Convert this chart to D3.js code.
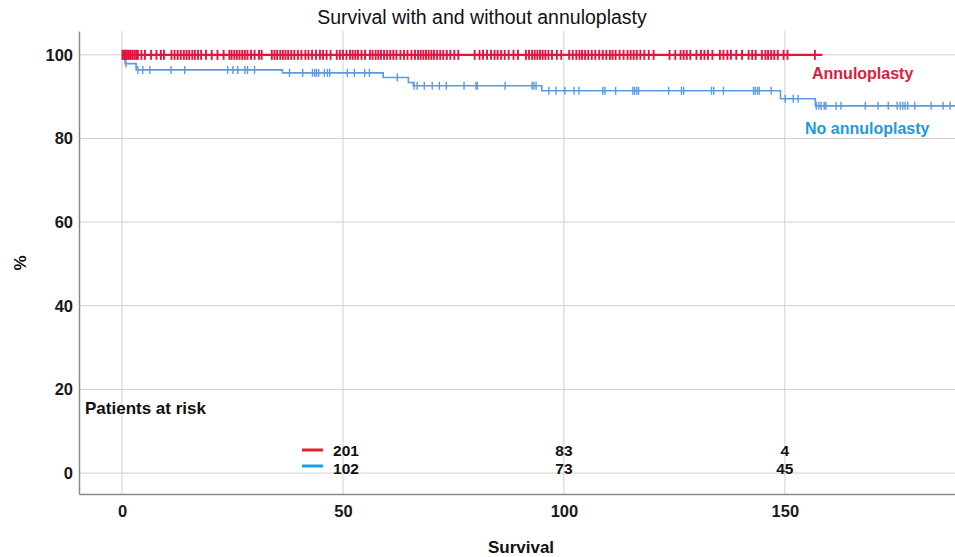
<!DOCTYPE html>
<html>
<head>
<meta charset="utf-8">
<script src="https://cdn.jsdelivr.net/npm/d3@7"></script>
<style>
  html, body { margin: 0; padding: 0; background: #fff; }
  svg { display: block; font-family: "Liberation Sans", Arial, sans-serif; }
</style>
</head>
<body>
<svg id="chart" width="955" height="557"></svg>
<script>
// ---------- DATA ----------
const title = "Survival with and without annuloplasty";
const xTicks = [0, 50, 100, 150];
const yTicks = [0, 20, 40, 60, 80, 100];

// Annuloplasty: no events, survival stays at 100%
const annuloStepTimes = [0];
const annuloStepSurv  = [100];
const annuloEnd = 158.5;
const annuloCensor = [0.1,0.3,0.5,0.7,0.9,1.1,1.4,1.7,2.0,2.4,2.8,3.2,3.6,4.4,5.2,6.6,7.8,8.8,9.5,
  11.2,11.9,12.6,13.3,14.0,14.6,15.2,15.9,16.5,17.2,17.9,19.0,20.3,21.6,23.0,24.3,24.8,25.4,26.0,26.6,
  27.2,27.8,28.4,29.2,30.0,31.0,31.6,33.9,34.5,35.1,35.8,36.4,37.0,37.6,38.3,39.0,39.8,40.6,41.5,42.2,
  43.0,43.9,44.8,45.5,46.3,47.2,48.6,49.3,50.0,50.8,51.6,52.2,52.8,53.4,54.2,55.0,56.1,56.7,57.4,58.0,
  58.6,59.3,60.0,60.7,61.4,62.1,63.0,63.8,64.6,65.5,66.3,67.0,67.6,68.2,68.8,69.4,70.0,70.6,71.3,72.0,
  72.7,73.5,74.3,75.2,76.1,79.8,80.9,81.7,82.6,83.5,84.3,85.0,85.8,86.6,87.5,88.6,89.6,91.4,92.1,92.8,
  93.4,94.0,94.6,95.2,95.8,96.5,97.3,98.4,99.4,101.2,102.0,102.8,103.5,104.1,104.8,105.5,106.3,107.1,
  108.0,108.8,109.6,110.4,111.0,111.7,112.6,113.5,114.4,115.1,115.8,116.5,117.3,118.2,119.2,120.3,
  123.9,125.2,126.4,127.1,127.8,128.6,130.0,131.0,131.8,132.6,133.6,135.3,136.1,137.0,137.8,139.0,
  140.3,141.8,142.6,143.4,144.8,145.6,146.2,146.9,147.6,148.4,149.7,150.6,156.8];

// No annuloplasty: Kaplan-Meier steps
const noAnnuloStepTimes = [0, 0.7, 3.2, 36.3, 59.1, 64.8, 65.9, 95.0, 149.0, 156.9];
const noAnnuloStepSurv  = [100, 97.9, 96.4, 95.7, 94.6, 93.4, 92.6, 91.4, 89.5, 87.8];
const noAnnuloEnd = 192;
const noAnnuloCensor = [0.9,3.6,4.7,6.3,11.1,14.2,23.9,25.1,26.2,27.8,28.4,30.0,37.9,40.9,43.1,43.6,
  44.0,44.5,45.8,46.5,47.0,51.0,52.6,54.9,56.0,62.3,66.1,66.8,68.4,70.2,71.8,73.4,77.4,80.1,80.4,86.7,
  92.8,93.2,93.7,96.6,98.2,100.2,102.3,103.4,108.8,109.3,111.7,115.6,116.0,116.5,116.9,123.7,126.6,
  127.1,133.4,133.9,136.1,142.9,143.3,143.8,144.2,146.9,150.1,151.9,153.0,157.1,157.7,158.2,158.9,
  159.3,161.6,162.7,168.2,171.1,173.4,175.4,176.1,176.7,177.2,177.8,179.4,183.1,185.8,187.4];

// Patients at risk
const riskTimes = [50, 100, 150];
const riskAnnulo = [201, 83, 4];
const riskNoAnnulo = [102, 73, 45];

// ---------- LAYOUT ----------
const svg = d3.select("#chart");
const plot = { left: 79, right: 955, top: 31, bottom: 494 };
const x = d3.scaleLinear().domain([-9.73, 188.5]).range([plot.left, plot.right]);
const y = d3.scaleLinear().domain([-5, 105.7]).range([plot.bottom, plot.top]);

const colRedLine = "#e3153f", colRedText = "#d81e3c";
const colBlueLine = "#5a9be0", colBlueText = "#1f9ad8";

svg.append("defs").append("clipPath").attr("id", "clip")
  .append("rect").attr("x", plot.left).attr("y", plot.top - 10)
  .attr("width", plot.right - plot.left).attr("height", plot.bottom - plot.top + 10);

// grid
const grid = svg.append("g");
grid.selectAll("line.h").data(yTicks).join("line")
  .attr("x1", plot.left).attr("x2", plot.right)
  .attr("y1", d => y(d)).attr("y2", d => y(d))
  .attr("stroke", "#cfcfcf").attr("stroke-width", 1);
grid.selectAll("line.v").data(xTicks).join("line")
  .attr("y1", plot.top).attr("y2", plot.bottom)
  .attr("x1", d => x(d)).attr("x2", d => x(d))
  .attr("stroke", "#cfcfcf").attr("stroke-width", 1);

// axes
const yAxis = svg.append("g").attr("transform", `translate(${plot.left},0)`)
  .call(d3.axisLeft(y).tickValues(yTicks).tickSize(0).tickPadding(6).tickSizeOuter(0));
const xAxis = svg.append("g").attr("transform", `translate(0,${plot.bottom})`)
  .call(d3.axisBottom(x).tickValues(xTicks).tickSize(0).tickPadding(11).tickSizeOuter(0));
[xAxis, yAxis].forEach(a => {
  a.select(".domain").attr("stroke", "#8a8a8a").attr("stroke-width", 1.5);
  a.selectAll("text").attr("font-size", 16.5).attr("font-weight", "bold")
    .attr("fill", "#1a1a1a").attr("font-family", "Liberation Sans, Arial, sans-serif");
});

// curves
const stepLine = d3.line().x(d => x(d[0])).y(d => y(d[1])).curve(d3.curveStepAfter);
function survAt(times, surv, t) {
  let s = surv[0];
  for (let i = 0; i < times.length; i++) if (times[i] <= t) s = surv[i];
  return s;
}
function drawCurve(times, surv, end, censor, color, markH, lw, mw) {
  const g = svg.append("g").attr("clip-path", "url(#clip)");
  const pts = times.map((t, i) => [t, surv[i]]);
  pts.push([end, surv[surv.length - 1]]);
  g.append("path").datum(pts).attr("d", stepLine)
    .attr("fill", "none").attr("stroke", color).attr("stroke-width", lw);
  g.selectAll("line.c").data(censor).join("line")
    .attr("x1", d => x(d)).attr("x2", d => x(d))
    .attr("y1", d => y(survAt(times, surv, d)) - markH / 2)
    .attr("y2", d => y(survAt(times, surv, d)) + markH / 2)
    .attr("stroke", color).attr("stroke-width", mw);
}
drawCurve(noAnnuloStepTimes, noAnnuloStepSurv, noAnnuloEnd, noAnnuloCensor, colBlueLine, 8, 1.6, 1.4);
drawCurve(annuloStepTimes, annuloStepSurv, annuloEnd, annuloCensor, colRedLine, 10, 2.2, 1.9);

// curve labels
svg.append("text").attr("x", 812).attr("y", 79).text("Annuloplasty")
  .attr("font-size", 16).attr("font-weight", "bold").attr("fill", colRedText);
svg.append("text").attr("x", 805).attr("y", 134).text("No annuloplasty")
  .attr("font-size", 16).attr("font-weight", "bold").attr("fill", colBlueText);

// title & axis titles
svg.append("text").attr("x", 482).attr("y", 24).attr("text-anchor", "middle")
  .attr("font-size", 19.5).attr("fill", "#111").text(title);
svg.append("text").attr("x", 521).attr("y", 553).attr("text-anchor", "middle")
  .attr("font-size", 17).attr("font-weight", "bold").attr("fill", "#111").text("Survival");
svg.append("text").attr("transform", "translate(26,263) rotate(-90)").attr("text-anchor", "middle")
  .attr("font-size", 17).attr("font-weight", "bold").attr("fill", "#111").text("%");

// patients at risk
svg.append("text").attr("x", 85).attr("y", 414).text("Patients at risk")
  .attr("font-size", 17).attr("font-weight", "bold").attr("fill", "#111");
const risk = svg.append("g").attr("font-size", 15.5).attr("font-weight", "bold").attr("fill", "#111");
risk.selectAll("text.a").data(riskTimes).join("text")
  .attr("x", d => x(d)).attr("dx", (d, i) => i === 0 ? 3 : 0).attr("y", 456)
  .attr("text-anchor", "middle").text((d, i) => riskAnnulo[i]);
risk.selectAll("text.b").data(riskTimes).join("text")
  .attr("x", d => x(d)).attr("dx", (d, i) => i === 0 ? 3 : 0).attr("y", 473.8)
  .attr("text-anchor", "middle").text((d, i) => riskNoAnnulo[i]);
svg.append("line").attr("x1", x(riskTimes[0]) - 41).attr("x2", x(riskTimes[0]) - 20)
  .attr("y1", 450).attr("y2", 450).attr("stroke", "#e3202a").attr("stroke-width", 3);
svg.append("line").attr("x1", x(riskTimes[0]) - 41).attr("x2", x(riskTimes[0]) - 20)
  .attr("y1", 466).attr("y2", 466).attr("stroke", "#1fa0e6").attr("stroke-width", 3);
</script>
</body>
</html>
